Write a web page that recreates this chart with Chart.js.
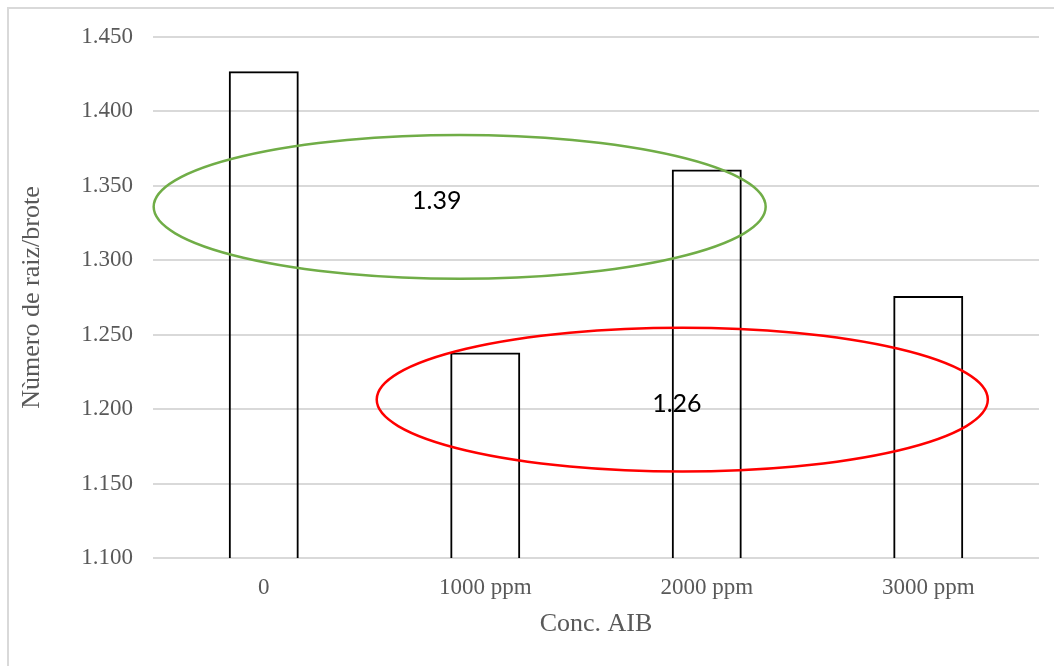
<!DOCTYPE html>
<html>
<head>
<meta charset="utf-8">
<script src="https://cdn.jsdelivr.net/npm/chart.js@4/dist/chart.umd.min.js"></script>
<style>
  html, body { margin: 0; padding: 0; background: #ffffff; }
  #wrap { position: relative; width: 1054px; height: 666px; }
</style>
</head>
<body>
<div id="wrap"><canvas id="chart" width="1054" height="666"></canvas></div>
<script>
// Concentraciones de AIB evaluadas
const categories = ['0', '1000 ppm', '2000 ppm', '3000 ppm'];
// Número medio de raíces por brote
const rootsPerShoot = [1.427, 1.238, 1.361, 1.276];
// Escala del eje Y
const yMin = 1.100;
const yMax = 1.450;
const yStep = 0.050;

// Grupos resaltados con elipses: índices de las barras que promedian
const groupHigh = [0, 2];
const groupLow = [1, 3];

function groupMean(idx) {
  return idx.reduce((s, i) => s + rootsPerShoot[i], 0) / idx.length;
}

// Elipses en unidades de datos (índice de categoría / valor)
const groupEllipses = [
  { members: groupHigh, color: '#70ad47', xMin: -0.497, xMax: 2.266, yMin: 1.2876, yMax: 1.3842, labelX: 0.781, labelY: 1.340 },
  { members: groupLow,  color: '#ff0000', xMin: 0.510,  xMax: 3.269, yMin: 1.1581, yMax: 1.2547, labelX: 1.865, labelY: 1.2037 }
];

const frameAndGroups = {
  id: 'frameAndGroups',
  beforeDraw(chart) {
    const ctx = chart.ctx;
    ctx.save();
    ctx.strokeStyle = '#d9d9d9';
    ctx.lineWidth = 2;
    ctx.strokeRect(8, 8, 1200, 800);
    ctx.restore();
  },
  afterDatasetsDraw(chart) {
    const ctx = chart.ctx;
    const xs = chart.scales.x, ys = chart.scales.y;
    ctx.save();
    groupEllipses.forEach(g => {
      const x1 = xs.getPixelForValue(g.xMin), x2 = xs.getPixelForValue(g.xMax);
      const y1 = ys.getPixelForValue(g.yMax), y2 = ys.getPixelForValue(g.yMin);
      ctx.beginPath();
      ctx.ellipse((x1 + x2) / 2, (y1 + y2) / 2, (x2 - x1) / 2, (y2 - y1) / 2, 0, 0, Math.PI * 2);
      ctx.strokeStyle = g.color;
      ctx.lineWidth = 2.5;
      ctx.stroke();
    });
    ctx.fillStyle = '#000000';
    ctx.font = '25px Lato';
    ctx.textAlign = 'center';
    ctx.textBaseline = 'middle';
    groupEllipses.forEach(g => {
      ctx.fillText(groupMean(g.members).toFixed(2), xs.getPixelForValue(g.labelX), ys.getPixelForValue(g.labelY));
    });
    ctx.restore();
  }
};

new Chart(document.getElementById('chart'), {
  type: 'bar',
  data: {
    labels: categories,
    datasets: [{
      data: rootsPerShoot,
      backgroundColor: 'rgba(255,255,255,0)',
      borderColor: '#000000',
      borderWidth: 2,
      borderSkipped: 'start',
      barPercentage: 0.316,
      categoryPercentage: 1.0
    }]
  },
  options: {
    responsive: false,
    animation: false,
    layout: { padding: { top: 37, right: 15, bottom: 0, left: 0 } },
    plugins: { legend: { display: false }, tooltip: { enabled: false } },
    scales: {
      x: {
        grid: { display: false, drawTicks: false },
        border: { display: false },
        ticks: { color: '#595959', font: { family: 'Liberation Serif', size: 23 }, padding: 16, maxRotation: 0 },
        title: { display: true, text: 'Conc. AIB', color: '#595959', font: { family: 'Liberation Serif', size: 26 }, padding: { top: 0, bottom: 26 } },
        afterFit(scale) { scale.height = 108; }
      },
      y: {
        min: yMin,
        max: yMax,
        grid: { color: '#d9d9d9', lineWidth: 2, drawTicks: false },
        border: { display: false },
        ticks: {
          stepSize: yStep,
          color: '#595959',
          font: { family: 'Liberation Serif', size: 23 },
          padding: 20,
          callback: v => Number(v).toFixed(3)
        },
        title: { display: true, text: 'Nùmero de raiz/brote', color: '#595959', font: { family: 'Liberation Serif', size: 26 }, padding: { top: 17, bottom: 0 } },
        afterFit(scale) { scale.width = 153; }
      }
    }
  },
  plugins: [frameAndGroups]
});
</script>
</body>
</html>
